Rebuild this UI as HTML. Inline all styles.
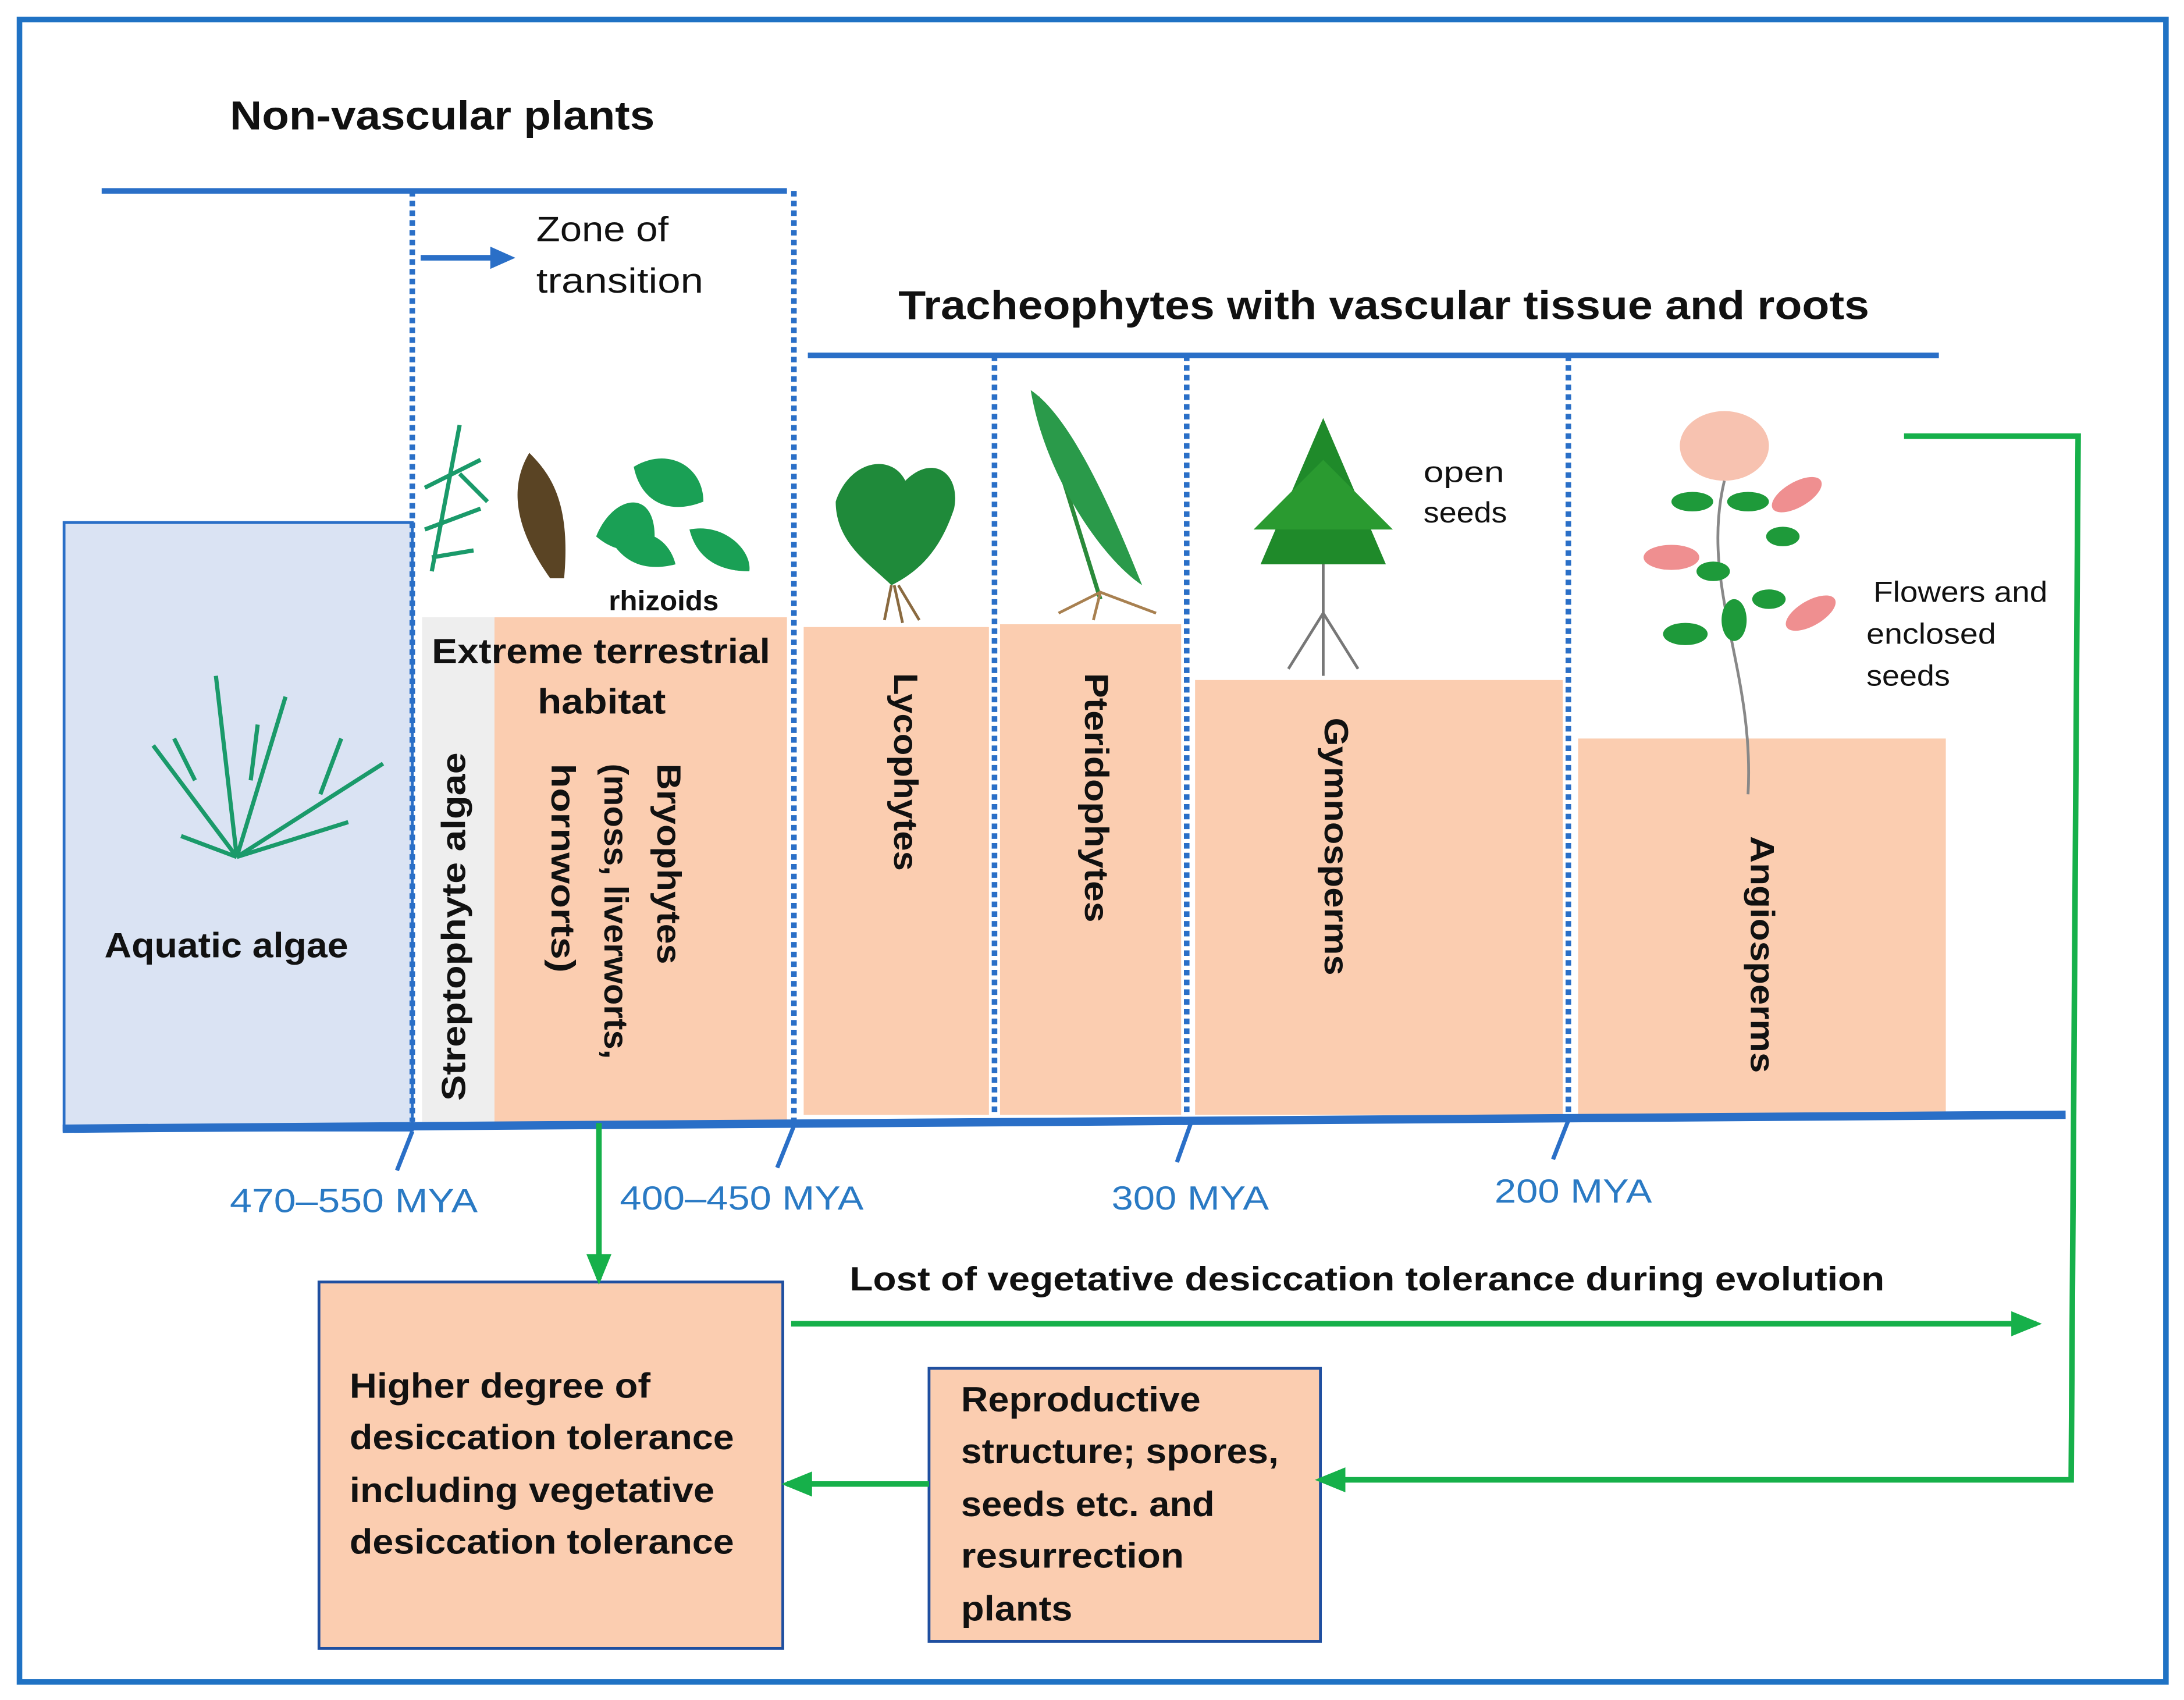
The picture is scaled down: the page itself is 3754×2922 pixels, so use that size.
<!DOCTYPE html>
<html><head><meta charset="utf-8"><style>
html,body{margin:0;padding:0;background:#fff}
svg{display:block}
text{font-family:"Liberation Sans",sans-serif;fill:#111}
</style></head><body>
<svg width="3754" height="2922" viewBox="0 0 1568 1220" preserveAspectRatio="none" xmlns="http://www.w3.org/2000/svg">
<defs>
<marker id="ga" markerWidth="22" markerHeight="18" refX="18" refY="9" orient="auto" markerUnits="userSpaceOnUse" viewBox="0 0 22 18"><path d="M0,0 L22,9 L0,18 z" fill="#16b04a"/></marker>
</defs>
<rect x="14" y="14" width="1541" height="1193" fill="#fff" stroke="#1f72c4" stroke-width="4"/>
<text x="165" y="93" font-size="29" font-weight="bold" textLength="305" lengthAdjust="spacingAndGlyphs">Non-vascular plants</text>
<line x1="73" y1="137" x2="565" y2="137" stroke="#2a6fc7" stroke-width="4"/>
<text x="385" y="173" font-size="25" textLength="95" lengthAdjust="spacingAndGlyphs">Zone of</text>
<text x="385" y="210" font-size="25" textLength="120" lengthAdjust="spacingAndGlyphs">transition</text>
<line x1="302" y1="185" x2="356" y2="185" stroke="#2a6fc7" stroke-width="4"/>
<path d="M352,177 L370,185 L352,193 z" fill="#2a6fc7"/>
<text x="645" y="229" font-size="29" font-weight="bold" textLength="697" lengthAdjust="spacingAndGlyphs">Tracheophytes with vascular tissue and roots</text>
<line x1="580" y1="255" x2="1392" y2="255" stroke="#2a6fc7" stroke-width="4"/>
<rect x="46" y="375" width="250" height="436" fill="#dae3f3" stroke="#2a6fc7" stroke-width="2"/>
<rect x="303" y="443" width="52" height="362" fill="#eeeeee"/>
<rect x="355" y="443" width="210" height="362" fill="#fbcdb0"/>
<rect x="577" y="450" width="133" height="350" fill="#fbcdb0"/>
<rect x="718" y="448" width="130" height="352" fill="#fbcdb0"/>
<rect x="858" y="488" width="264" height="312" fill="#fbcdb0"/>
<rect x="1133" y="530" width="264" height="270" fill="#fbcdb0"/>
<g stroke="#2a6fc7" stroke-width="4" stroke-dasharray="4,3">
<line x1="296" y1="137" x2="296" y2="805"/>
<line x1="570" y1="137" x2="570" y2="805"/>
<line x1="714" y1="255" x2="714" y2="800"/>
<line x1="852" y1="255" x2="852" y2="800"/>
<line x1="1126" y1="255" x2="1126" y2="800"/>
</g>
<line x1="45" y1="810" x2="1483" y2="800" stroke="#2a6fc7" stroke-width="6"/>
<g stroke="#2a6fc7" stroke-width="3">
<line x1="296" y1="812" x2="285" y2="840"/>
<line x1="570" y1="808" x2="558" y2="838"/>
<line x1="855" y1="806" x2="845" y2="834"/>
<line x1="1126" y1="804" x2="1115" y2="832"/>
</g>
<g font-size="24">
<text x="165" y="870" style="fill:#2a7ac4" textLength="178" lengthAdjust="spacingAndGlyphs">470–550 MYA</text>
<text x="445" y="868" style="fill:#2a7ac4" textLength="175" lengthAdjust="spacingAndGlyphs">400–450 MYA</text>
<text x="798" y="868" style="fill:#2a7ac4" textLength="113" lengthAdjust="spacingAndGlyphs">300 MYA</text>
<text x="1073" y="863" style="fill:#2a7ac4" textLength="113" lengthAdjust="spacingAndGlyphs">200 MYA</text>
</g>
<text x="75" y="687" font-size="25" font-weight="bold" textLength="175" lengthAdjust="spacingAndGlyphs">Aquatic algae</text>
<text x="310" y="476" font-size="25" font-weight="bold" textLength="243" lengthAdjust="spacingAndGlyphs">Extreme terrestrial</text>
<text x="386" y="512" font-size="25" font-weight="bold" textLength="92" lengthAdjust="spacingAndGlyphs">habitat</text>
<text x="437" y="438" font-size="20" font-weight="bold" textLength="79" lengthAdjust="spacingAndGlyphs">rhizoids</text>
<text x="1022" y="346" font-size="21" textLength="58" lengthAdjust="spacingAndGlyphs">open</text>
<text x="1022" y="375" font-size="21" textLength="60" lengthAdjust="spacingAndGlyphs">seeds</text>
<text x="1345" y="432" font-size="21" textLength="125" lengthAdjust="spacingAndGlyphs">Flowers and</text>
<text x="1340" y="462" font-size="21" textLength="93" lengthAdjust="spacingAndGlyphs">enclosed</text>
<text x="1340" y="492" font-size="21" textLength="60" lengthAdjust="spacingAndGlyphs">seeds</text>
<text transform="translate(334,790) rotate(-90)" font-size="24" font-weight="bold" textLength="250" lengthAdjust="spacingAndGlyphs">Streptophyte algae</text>
<g font-size="24" font-weight="bold">
<text transform="translate(472,548) rotate(90)" textLength="144" lengthAdjust="spacingAndGlyphs">Bryophytes</text>
<text transform="translate(434,548) rotate(90)" textLength="212" lengthAdjust="spacingAndGlyphs">(moss, liverworts,</text>
<text transform="translate(396,548) rotate(90)" textLength="150" lengthAdjust="spacingAndGlyphs">hornworts)</text>
<text transform="translate(642,483) rotate(90)" textLength="142" lengthAdjust="spacingAndGlyphs">Lycophytes</text>
<text transform="translate(779,483) rotate(90)" textLength="179" lengthAdjust="spacingAndGlyphs">Pteridophytes</text>
<text transform="translate(951,515) rotate(90)" textLength="185" lengthAdjust="spacingAndGlyphs">Gymnosperms</text>
<text transform="translate(1257,600) rotate(90)" textLength="170" lengthAdjust="spacingAndGlyphs">Angiosperms</text>
</g>
<g stroke="#1a9a6a" stroke-width="3" fill="none">
<path d="M170,615 L155,485 M170,615 L110,535 M170,615 L275,548 M170,615 L130,600 M170,615 L250,590 M170,615 L205,500 M140,560 L125,530 M230,570 L245,530 M180,560 L185,520"/>
<path d="M310,410 L330,305 M305,350 L345,330 M305,380 L345,365 M310,400 L340,395 M330,340 L350,360"/>
</g>
<path d="M395,415 C370,380 365,350 380,325 C395,340 410,360 405,415 z" fill="#5a4424"/>
<g fill="#1aa055">
<path d="M428,385 C440,355 470,350 470,385 C455,400 440,395 428,385 z"/>
<path d="M455,335 C480,320 505,335 505,360 C480,370 460,360 455,335 z"/>
<path d="M495,380 C520,375 540,395 538,410 C515,410 500,400 495,380 z"/>
<path d="M440,390 C460,375 480,385 485,405 C465,410 450,405 440,390 z"/>
</g>
<path d="M600,360 C610,330 640,325 650,345 C670,325 690,340 685,365 C675,395 660,410 640,420 C625,405 600,390 600,360 z" fill="#1f8a3a"/>
<path d="M640,420 L635,445 M645,420 L660,445 M642,420 L648,447" stroke="#8a6a40" stroke-width="2"/>
<path d="M745,285 L790,430" stroke="#2a8a3a" stroke-width="3"/>
<path d="M740,280 C770,300 800,370 820,420 C790,400 750,340 740,280 z" fill="#2a9a4a"/>
<path d="M760,440 L790,425 L830,440 M790,425 L785,445" stroke="#a88050" stroke-width="2" fill="none"/>
<path d="M950,300 L905,405 L995,405 z" fill="#1f8a2a"/>
<path d="M950,330 L900,380 L1000,380 z" fill="#2a9a30"/>
<path d="M950,405 L950,440 M950,440 L925,480 M950,440 L975,480 M950,440 L950,485" stroke="#777" stroke-width="2"/>
<ellipse cx="1238" cy="320" rx="32" ry="25" fill="#f7c2b0"/>
<path d="M1238,345 C1220,420 1260,480 1255,570" stroke="#888" stroke-width="2" fill="none"/>
<g fill="#1e9a3a">
<ellipse cx="1215" cy="360" rx="15" ry="7"/><ellipse cx="1255" cy="360" rx="15" ry="7"/>
<ellipse cx="1230" cy="410" rx="12" ry="7"/><ellipse cx="1270" cy="430" rx="12" ry="7"/>
<ellipse cx="1210" cy="455" rx="16" ry="8"/><ellipse cx="1245" cy="445" rx="9" ry="15"/>
<ellipse cx="1280" cy="385" rx="12" ry="7"/>
</g>
<ellipse cx="1290" cy="355" rx="20" ry="9" fill="#ef8f90" transform="rotate(-30 1290 355)"/>
<ellipse cx="1200" cy="400" rx="20" ry="9" fill="#ef8f90"/>
<ellipse cx="1300" cy="440" rx="20" ry="9" fill="#ef8f90" transform="rotate(-30 1300 440)"/>
<rect x="229" y="920" width="333" height="263" fill="#fbcdb0" stroke="#1f4fa0" stroke-width="2"/>
<g font-size="25" font-weight="bold">
<text x="251" y="1003" textLength="216" lengthAdjust="spacingAndGlyphs">Higher degree of</text>
<text x="251" y="1040" textLength="276" lengthAdjust="spacingAndGlyphs">desiccation tolerance</text>
<text x="251" y="1078" textLength="262" lengthAdjust="spacingAndGlyphs">including vegetative</text>
<text x="251" y="1115" textLength="276" lengthAdjust="spacingAndGlyphs">desiccation tolerance</text>
</g>
<rect x="667" y="982" width="281" height="196" fill="#fbcdb0" stroke="#1f4fa0" stroke-width="2"/>
<g font-size="25" font-weight="bold">
<text x="690" y="1013" textLength="172" lengthAdjust="spacingAndGlyphs">Reproductive</text>
<text x="690" y="1050" textLength="228" lengthAdjust="spacingAndGlyphs">structure; spores,</text>
<text x="690" y="1088" textLength="182" lengthAdjust="spacingAndGlyphs">seeds etc. and</text>
<text x="690" y="1125" textLength="160" lengthAdjust="spacingAndGlyphs">resurrection</text>
<text x="690" y="1163" textLength="80" lengthAdjust="spacingAndGlyphs">plants</text>
</g>
<text x="610" y="926" font-size="24" font-weight="bold" textLength="743" lengthAdjust="spacingAndGlyphs">Lost of vegetative desiccation tolerance during  evolution</text>
<g stroke="#16b04a" stroke-width="4" fill="none">
<line x1="430" y1="806" x2="430" y2="918" marker-end="url(#ga)"/>
<line x1="568" y1="950" x2="1462" y2="950" marker-end="url(#ga)"/>
<polyline points="1367,313 1492,313 1487,1062 948,1062" marker-end="url(#ga)"/>
<line x1="667" y1="1065" x2="565" y2="1065" marker-end="url(#ga)"/>
</g>
</svg>
</body></html>
